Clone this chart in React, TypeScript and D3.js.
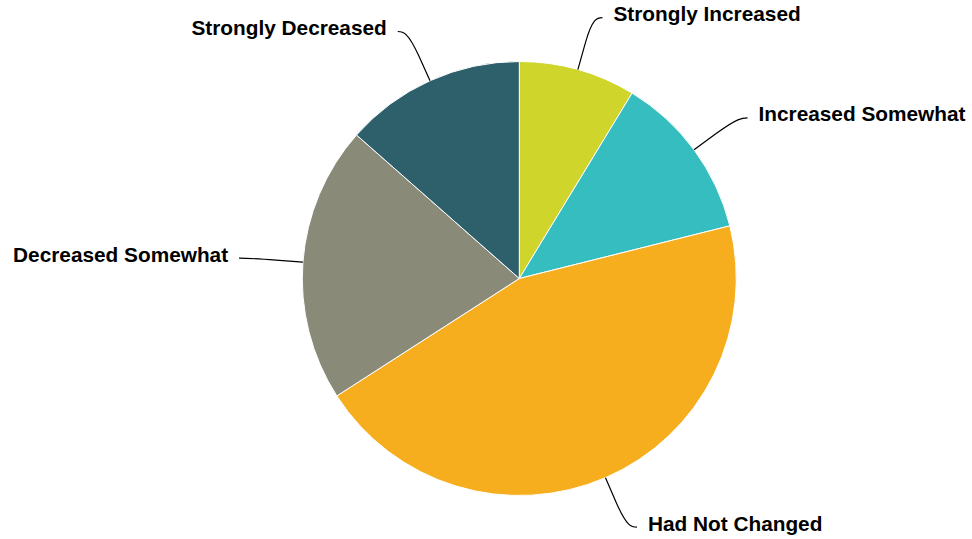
import React from "react";
import * as d3 from "d3";

const categories = ["Strongly Increased", "Increased Somewhat", "Had Not Changed", "Decreased Somewhat", "Strongly Decreased"];
const values = [8.7, 12.4, 44.8, 20.6, 13.5];
const colors = ["#CFD52A", "#35BDBF", "#F6AE1F", "#8A8A78", "#2E606C"];

const W = 972;
const H = 539;
const cx = 519.3;
const cy = 278.5;
const R = 217;
const DIST = 54;

export default function App() {
  const data = categories.map((c, i) => ({ name: c, value: values[i], color: colors[i] }));
  const pie = d3.pie<any>().value((d: any) => d.value).sort(null);
  const arcs = pie(data);
  const arcGen = d3.arc<any>().innerRadius(0).outerRadius(R);

  const pt = (a: number, r: number) => [Math.sin(a) * r, -Math.cos(a) * r];

  return (
    <svg width={W} height={H} style={{ position: "absolute", left: 0, top: 0 }} fontFamily="'Liberation Sans', Arial, sans-serif">
      <rect width={W} height={H} fill="#fff" />
      <g transform={`translate(${cx},${cy})`}>
        {arcs.map((a, i) => (
          <path key={i} d={arcGen(a) as string} fill={a.data.color} stroke="#fff" strokeWidth={1} strokeLinejoin="round" />
        ))}
        {arcs.map((a, i) => {
          const mid = (a.startAngle + a.endAngle) / 2;
          const right = Math.sin(mid) >= 0;
          const sgn = right ? 1 : -1;
          const [tx, ty] = pt(mid, R);
          const [bx, by] = pt(mid, R + DIST / 2);
          const [lx0, ly] = pt(mid, R + DIST);
          const lx = lx0 + sgn * 10;
          const path = `M${lx},${ly} C${lx - sgn * 5},${ly} ${2 * bx - tx},${2 * by - ty} ${bx},${by} L${tx},${ty}`;
          return (
            <g key={"l" + i}>
              <path d={path} fill="none" stroke="#000" strokeWidth={1.2} />
              <text
                x={lx + sgn * 11}
                y={ly}
                dy="0.17em"
                textAnchor={right ? "start" : "end"}
                fontSize={20.8}
                fontWeight="bold"
                fill="#000"
              >
                {a.data.name}
              </text>
            </g>
          );
        })}
      </g>
    </svg>
  );
}
